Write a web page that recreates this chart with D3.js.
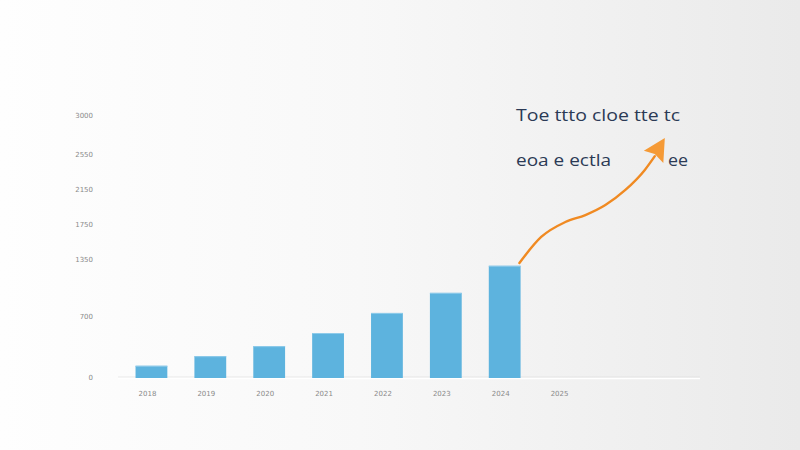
<!DOCTYPE html>
<html>
<head>
<meta charset="utf-8">
<script src="https://cdn.jsdelivr.net/npm/d3@7"></script>
<style>
  html, body { margin: 0; padding: 0; background: #f6f6f6; }
  svg { display: block; }
</style>
</head>
<body>
<svg id="chart"></svg>
<script>
// data
var years = ["2018", "2019", "2020", "2021", "2022", "2023", "2024", "2025"];
var values = [140, 250, 365, 515, 745, 975, 1285];
var yTickValues = [0, 700, 1350, 1750, 2150, 2550, 3000];
// trend arrow, in (band index, value) units
var arrowIdx = [6.25, 6.62, 7.03, 7.37, 7.71, 8.05, 8.38, 8.55];
var arrowVal = [1317, 1615, 1786, 1866, 1981, 2153, 2382, 2540];
var arrowTip = [8.72, 2748];
var titleLine1 = "Toe ttto cloe tte tc";
var titleLine2 = "eoa e ectla";
var titleLine2b = "ee";

var width = 800, height = 450;
var svg = d3.select("#chart")
  .attr("width", width)
  .attr("height", height);

// background
var defs = svg.append("defs");
var bg = defs.append("linearGradient")
  .attr("id", "bg")
  .attr("x1", "0%").attr("x2", "100%")
  .attr("y1", "0%").attr("y2", "0%");
bg.append("stop").attr("offset", "0%").attr("stop-color", "#fefefe");
bg.append("stop").attr("offset", "45%").attr("stop-color", "#f8f8f8");
bg.append("stop").attr("offset", "100%").attr("stop-color", "#eaeaea");

svg.append("rect")
  .attr("width", width)
  .attr("height", height)
  .attr("fill", "url(#bg)");

var x = d3.scaleBand()
  .domain(years)
  .range([122, 593])
  .paddingInner(0.46)
  .paddingOuter(0.23);

var y = d3.scaleLinear()
  .domain([0, 3000])
  .range([378, 116]);

// linear helper on band index for the arrow
var xIdx = d3.scaleLinear()
  .domain([0, 1])
  .range([x(years[0]) + x.bandwidth() / 2, x(years[1]) + x.bandwidth() / 2]);

// baseline
svg.append("line")
  .attr("x1", 118).attr("x2", 700)
  .attr("y1", y(0) - 1).attr("y2", y(0) - 1)
  .attr("stroke", "#d9d9d9")
  .attr("stroke-opacity", 0.6)
  .attr("stroke-width", 1);
svg.append("line")
  .attr("x1", 118).attr("x2", 700)
  .attr("y1", y(0) + 0.5).attr("y2", y(0) + 0.5)
  .attr("stroke", "#ffffff")
  .attr("stroke-width", 1.5);

// y axis labels
var yAxis = d3.axisLeft(y)
  .tickValues(yTickValues)
  .tickFormat(d3.format("d"))
  .tickSize(0)
  .tickPadding(0);

svg.append("g")
  .attr("class", "y axis")
  .attr("transform", "translate(93,-1)")
  .call(yAxis)
  .call(function(g) { g.select(".domain").remove(); })
  .selectAll("text")
  .style("font-family", "DejaVu Sans, sans-serif")
  .style("font-size", "7px")
  .style("fill", "#8a8a8a");

// x axis labels
var xAxis = d3.axisBottom(x)
  .tickSize(0)
  .tickPadding(0);

svg.append("g")
  .attr("class", "x axis")
  .attr("transform", "translate(-4,391)")
  .call(xAxis)
  .call(function(g) { g.select(".domain").remove(); })
  .selectAll("text")
  .style("font-family", "DejaVu Sans, sans-serif")
  .style("font-size", "7px")
  .style("fill", "#8a8a8a");

// bars
svg.selectAll(".bar")
  .data(values)
  .enter().append("rect")
  .attr("class", "bar")
  .attr("x", function(d, i) { return x(years[i]); })
  .attr("y", function(d) { return y(d); })
  .attr("width", x.bandwidth())
  .attr("height", function(d) { return y(0) - y(d); })
  .style("fill", "#5db3de");

svg.selectAll(".bartop")
  .data(values)
  .enter().append("rect")
  .attr("class", "bartop")
  .attr("x", function(d, i) { return x(years[i]); })
  .attr("y", function(d) { return y(d); })
  .attr("width", x.bandwidth())
  .attr("height", 1)
  .style("fill", "#8fcbea");

// trend arrow
var arrowPts = arrowIdx.map(function(d, i) {
  return [xIdx(d), y(arrowVal[i])];
});
var line = d3.line().curve(d3.curveMonotoneX);

svg.append("path")
  .attr("d", line(arrowPts))
  .attr("fill", "none")
  .attr("stroke", "#f08a22")
  .attr("stroke-width", 2.4)
  .attr("stroke-linecap", "round");

var tip = [xIdx(arrowTip[0]), y(arrowTip[1])];
var last = arrowPts[arrowPts.length - 2];
var dx = tip[0] - last[0], dy = tip[1] - last[1];
var len = Math.sqrt(dx * dx + dy * dy);
var ux = dx / len, uy = dy / len;
var back = [tip[0] - 22 * ux, tip[1] - 22 * uy];
var px = -uy, py = ux;
svg.append("path")
  .attr("d", "M" + tip[0] + "," + tip[1] +
    "L" + (back[0] + 12 * px) + "," + (back[1] + 12 * py) +
    "L" + (back[0] + 3 * ux) + "," + (back[1] + 3 * uy) +
    "L" + (back[0] - 11 * px) + "," + (back[1] - 11 * py) + "Z")
  .attr("fill", "#f59a36");

// annotation text
var textStyle = function(sel) {
  sel.style("font-family", "'Open Sans', sans-serif")
    .style("font-size", "17px")
    .style("fill", "#2b3a55");
};

svg.append("text")
  .attr("x", 516).attr("y", 121)
  .attr("textLength", 164)
  .attr("lengthAdjust", "spacingAndGlyphs")
  .text(titleLine1)
  .call(textStyle);

svg.append("text")
  .attr("x", 516).attr("y", 166)
  .attr("textLength", 95)
  .attr("lengthAdjust", "spacingAndGlyphs")
  .text(titleLine2)
  .call(textStyle);

svg.append("text")
  .attr("x", 668).attr("y", 166)
  .attr("textLength", 20)
  .attr("lengthAdjust", "spacingAndGlyphs")
  .text(titleLine2b)
  .call(textStyle);
</script>
</body>
</html>
